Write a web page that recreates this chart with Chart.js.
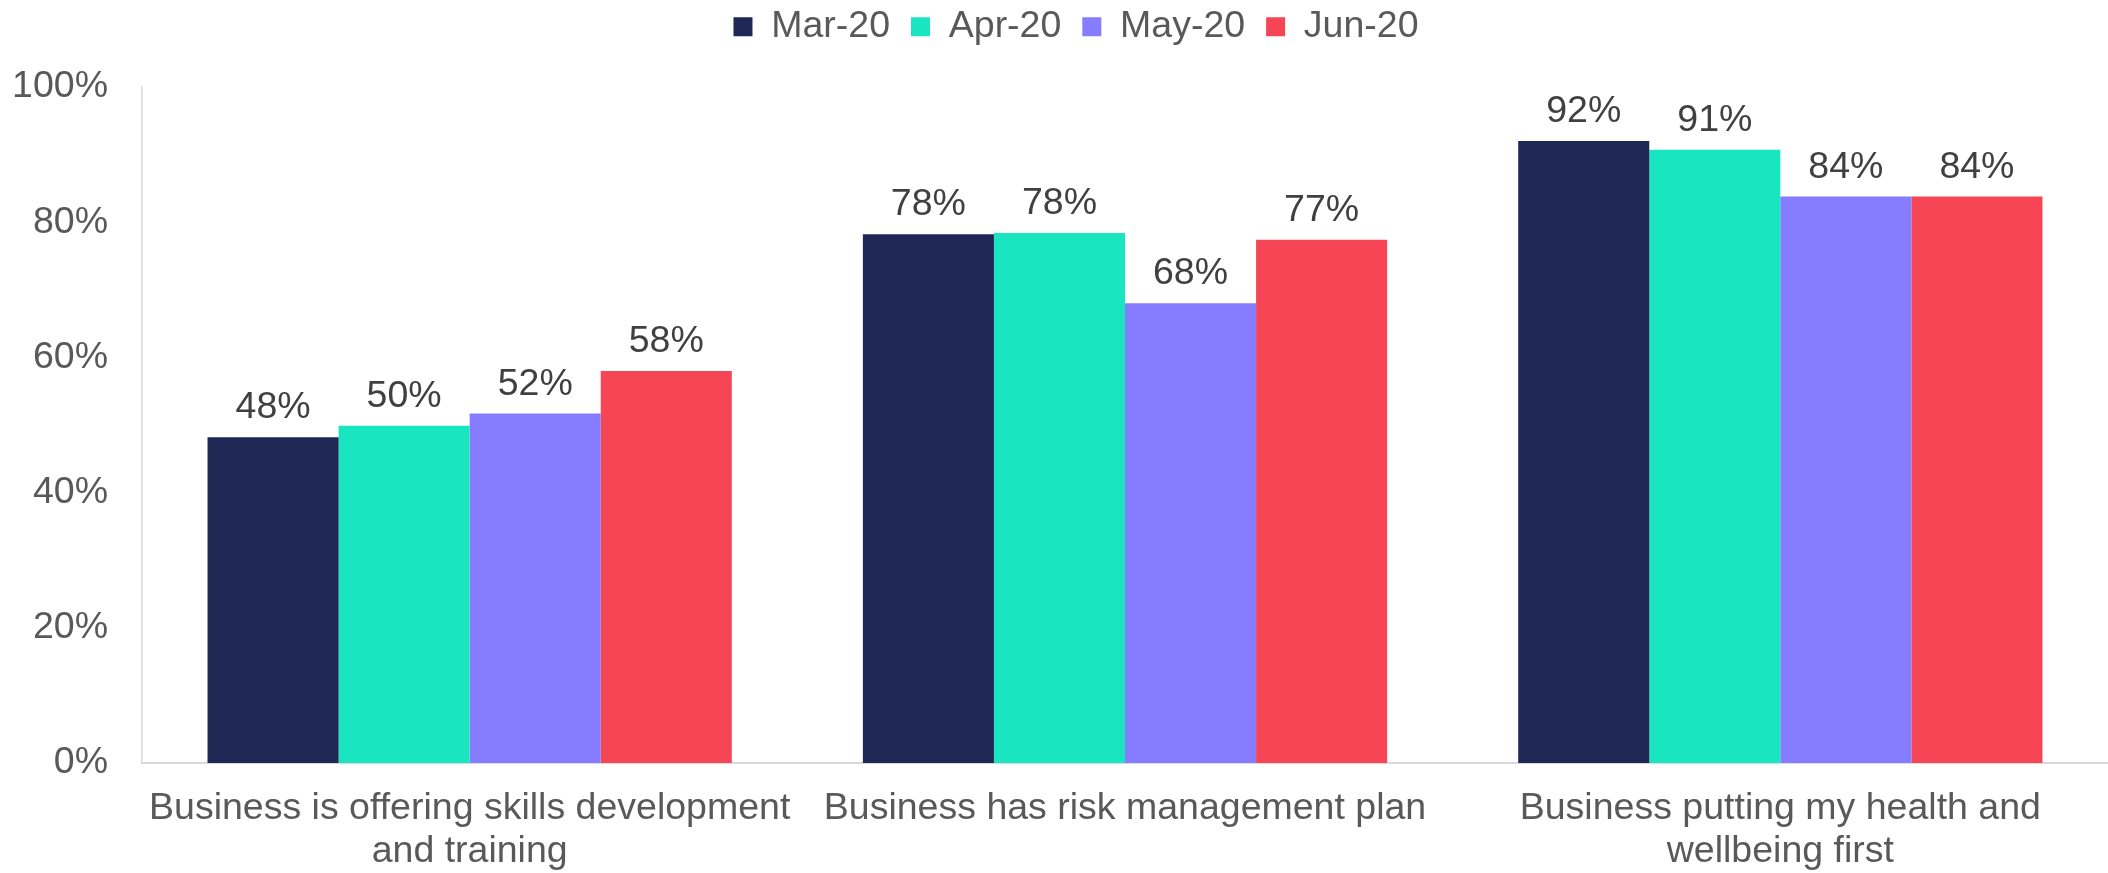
<!DOCTYPE html>
<html>
<head>
<meta charset="utf-8">
<script src="https://cdn.jsdelivr.net/npm/chart.js@4"></script>
<style>
  html, body { margin: 0; padding: 0; background: #fff; }
  #wrap { width: 2108px; height: 873px; }
</style>
</head>
<body>
<div id="wrap"><canvas id="chart"></canvas></div>
<script>
// categories and series (share of respondents, %)
const categories = [
    ['Business is offering skills development', 'and training'],
    'Business has risk management plan',
    ['Business putting my health and', 'wellbeing first']
];
const seriesNames = ['Mar-20', 'Apr-20', 'May-20', 'Jun-20'];
const mar20 = [48.2, 78.2, 92.0];
const apr20 = [49.9, 78.4, 90.7];
const may20 = [51.7, 68.0, 83.8];
const jun20 = [58.0, 77.4, 83.8];
const yTicks = [0, 20, 40, 60, 80, 100];

const colors = ['#1f2855', '#19e6c1', '#857cff', '#f64656'];
const FONT = "'Liberation Sans', Arial, sans-serif";
const FS = 37.5;

// draws the % value above each bar
const valueLabels = {
    id: 'valueLabels',
    afterDatasetsDraw(chart) {
        const ctx = chart.ctx;
        ctx.save();
        ctx.font = FS + 'px ' + FONT;
        ctx.fillStyle = '#404040';
        ctx.textAlign = 'center';
        ctx.textBaseline = 'alphabetic';
        chart.data.datasets.forEach((ds, i) => {
            chart.getDatasetMeta(i).data.forEach((bar, j) => {
                ctx.fillText(Math.round(ds.data[j]) + '%', bar.x, bar.y - 19);
            });
        });
        ctx.restore();
    }
};

// fixed legend height so the plot starts where the original does,
// then nudge the legend to sit like the original one
const legendPlace = {
    id: 'legendPlace',
    beforeInit(chart) {
        const fit = chart.legend.fit;
        chart.legend.fit = function () {
            fit.bind(chart.legend)();
            this.height = 87;
        };
    },
    afterLayout(chart) {
        const lg = chart.legend;
        lg.left += 22; lg.right += 22;
        lg.top -= 13; lg.bottom -= 13;
    }
};

const ctx = document.getElementById('chart').getContext('2d');
const chart = new Chart(ctx, {
    type: 'bar',
    data: {
        labels: categories,
        datasets: [mar20, apr20, may20, jun20].map((d, i) => ({
            label: seriesNames[i],
            data: d,
            backgroundColor: colors[i],
            borderWidth: 0,
            categoryPercentage: 0.8,
            barPercentage: 1.0
        }))
    },
    options: {
        responsive: true,
        maintainAspectRatio: false,
        animation: false,
        layout: { padding: 0 },
        plugins: {
            legend: {
                position: 'top',
                labels: {
                    boxWidth: 19,
                    boxHeight: 19,
                    padding: 21,
                    color: '#595959',
                    font: { family: FONT, size: FS }
                }
            },
            tooltip: { enabled: false }
        },
        scales: {
            y: {
                min: 0,
                max: 100,
                afterBuildTicks(scale) {
                    scale.ticks = yTicks.map(v => ({ value: v }));
                },
                afterFit(scale) {
                    scale.width = 142;
                },
                ticks: {
                    padding: 34,
                    color: '#595959',
                    font: { family: FONT, size: FS },
                    callback: v => v + '%'
                },
                grid: { display: false, drawTicks: false },
                border: { display: true, color: '#d9d9d9', width: 1.5 }
            },
            x: {
                afterFit(scale) {
                    scale.height = 110;
                },
                ticks: {
                    padding: 24,
                    color: '#595959',
                    font: { family: FONT, size: FS, lineHeight: 1.15 },
                    maxRotation: 0,
                    autoSkip: false
                },
                grid: { display: false, drawTicks: false },
                border: { display: true, color: '#d9d9d9', width: 2 }
            }
        }
    },
    plugins: [valueLabels, legendPlace]
});
</script>
</body>
</html>
